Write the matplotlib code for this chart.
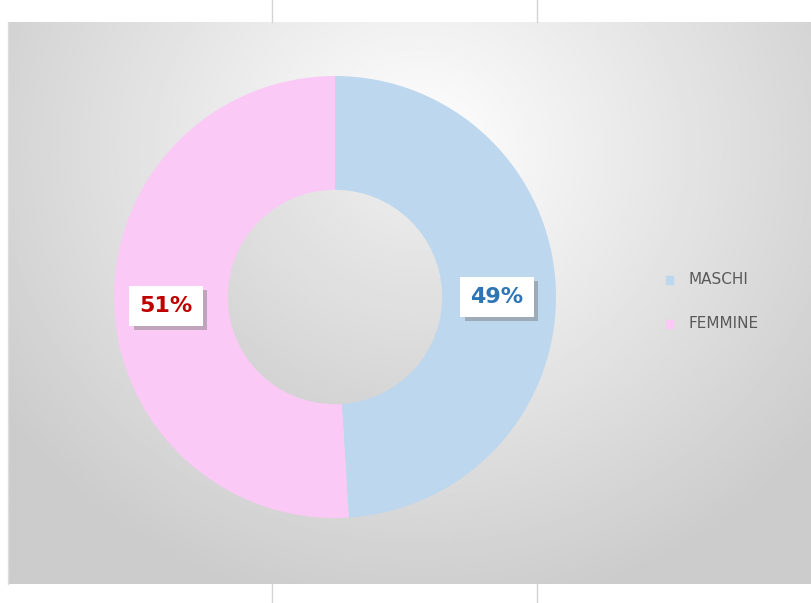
import matplotlib.pyplot as plt
import matplotlib.patheffects as pe
import numpy as np

labels = ['MASCHI', 'FEMMINE']
values = [49, 51]
colors = ['#bdd7ee', '#fbc9f6']
label_colors = ['#2e75b6', '#c00000']

W, H = 811, 603

fig = plt.figure(figsize=(W / 100, H / 100), dpi=100)
fig.patch.set_facecolor('white')
ax = fig.add_axes([0, 0, 1, 1])
ax.set_xlim(0, W)
ax.set_ylim(0, H)
ax.axis('off')

# radial grey background of the chart area
x0, x1, y0, y1 = 8, W, 19, 581
gx, gy = np.meshgrid(np.linspace(x0, x1, 400), np.linspace(y1, y0, 300))
d = np.hypot((gx - 420) / 450, (gy - 453) / 420)
shade = np.clip(1.0 - 0.18 * d, 0.80, 1.0)
ax.imshow(shade, cmap='gray', vmin=0, vmax=1, extent=[x0, x1, y0, y1],
          aspect='auto', zorder=0, interpolation='bilinear')

# spreadsheet cell lines above and below the chart
for xv in [272, 537]:
    ax.plot([xv, xv], [y1, H], color='#d4d4d4', lw=1, zorder=1)
    ax.plot([xv, xv], [0, y0], color='#d4d4d4', lw=1, zorder=1)
ax.plot([x0, x0], [y0, y1], color='#dcdcdc', lw=1, zorder=1)

cx, cy, R = 335, 306, 221

wedges, _ = ax.pie(values, colors=colors, startangle=90, counterclock=False,
                   radius=R, center=(cx, cy), frame=True,
                   wedgeprops=dict(width=R * 0.515, linewidth=0))
# slightly greyer hole
ax.add_patch(plt.Circle((cx, cy), R * 0.485, color='black', alpha=0.06,
                        lw=0, zorder=2))
ax.set_xlim(0, W)
ax.set_ylim(0, H)
ax.set_aspect('auto')
ax.axis('off')

label_pos = [(497, 306), (166, 297)]
for (lx, ly), v, c in zip(label_pos, values, label_colors):
    t = ax.text(lx, ly, '%d%%' % v, ha='center', va='center', fontsize=16,
                fontweight='bold', color=c, zorder=6,
                bbox=dict(boxstyle='square,pad=0.45', fc='white', ec='none'))
    t.get_bbox_patch().set_path_effects(
        [pe.SimplePatchShadow(offset=(3, -3), shadow_rgbFace='#777777', alpha=0.45),
         pe.Normal()])

# legend
for (ly, lab, col) in zip([323, 279], labels, colors):
    ax.add_patch(plt.Rectangle((666, ly - 4), 7, 8, color=col, zorder=5))
    ax.text(688, ly, lab, ha='left', va='center', fontsize=11,
            color='#595959', zorder=5)

fig.savefig('out.png', dpi=100)
